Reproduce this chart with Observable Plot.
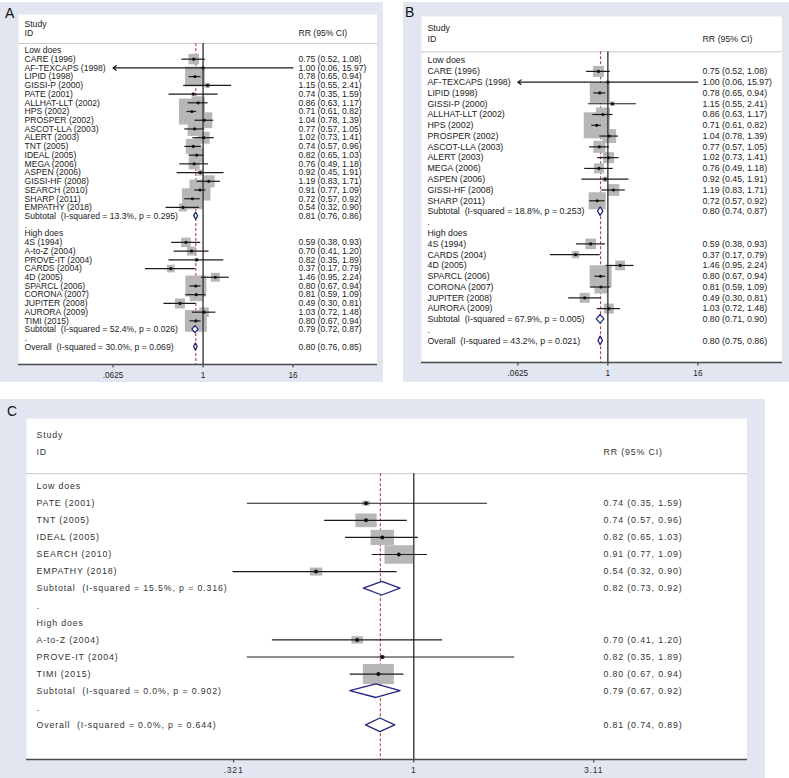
<!DOCTYPE html>
<html><head><meta charset="utf-8">
<script src="https://cdn.jsdelivr.net/npm/d3@7"></script>
<script src="https://cdn.jsdelivr.net/npm/@observablehq/plot@0.6"></script>
<style>
body{margin:0;background:#fff;}
#wrap{position:relative;width:789px;height:778px;overflow:hidden;font-family:"Liberation Sans",Arial,sans-serif;}
.bg{position:absolute;background:#e2e6f0;}
.lab{position:absolute;font-size:14px;line-height:1;color:#111;}
.plot{position:absolute;}
.plot svg{background:transparent !important;max-width:none !important;}
</style></head><body><div id="wrap"></div>
<script>
// ---------------- DATA ----------------
const groupNames = ["Low does", "High does"];

// Panel A
const aLowStudy = ["CARE (1996)","AF-TEXCAPS (1998)","LIPID (1998)","GISSI-P (2000)","PATE (2001)","ALLHAT-LLT (2002)","HPS (2002)","PROSPER (2002)","ASCOT-LLA (2003)","ALERT (2003)","TNT (2005)","IDEAL (2005)","MEGA (2006)","ASPEN (2006)","GISSI-HF (2008)","SEARCH (2010)","SHARP (2011)","EMPATHY (2018)"];
const aLowRR = [0.75,1.00,0.78,1.15,0.74,0.86,0.71,1.04,0.77,1.02,0.74,0.82,0.76,0.92,1.19,0.91,0.72,0.54];
const aLowLo = [0.52,0.06,0.65,0.55,0.35,0.63,0.61,0.78,0.57,0.73,0.57,0.65,0.49,0.45,0.83,0.77,0.57,0.32];
const aLowHi = [1.08,15.97,0.94,2.41,1.59,1.17,0.82,1.39,1.05,1.41,0.96,1.03,1.18,1.91,1.71,1.09,0.92,0.90];
const aLowWeight = [2.1,0.1,7.5,0.5,0.2,3.2,12.8,4.8,3.7,2.7,4.2,4.2,2.3,0.7,2.7,8.3,8.3,1.2];
const aLowSub = [0.81,0.76,0.86]; const aLowI2 = 13.3; const aLowP = 0.295;
const aHighStudy = ["4S (1994)","A-to-Z (2004)","PROVE-IT (2004)","CARDS (2004)","4D (2005)","SPARCL (2006)","CORONA (2007)","JUPITER (2008)","AURORA (2009)","TIMI (2015)"];
const aHighRR = [0.59,0.70,0.82,0.37,1.46,0.80,0.81,0.49,1.03,0.80];
const aHighLo = [0.38,0.41,0.35,0.17,0.95,0.67,0.59,0.30,0.72,0.67];
const aHighHi = [0.93,1.20,1.89,0.79,2.24,0.94,1.09,0.81,1.48,0.94];
const aHighWeight = [1.7,1.5,0.3,1.1,1.5,8.3,3.2,1.9,1.7,9.1];
const aHighSub = [0.79,0.72,0.87]; const aHighI2 = 52.4; const aHighP = 0.026;
const aOverall = [0.80,0.76,0.85]; const aOverI2 = 30.0; const aOverP = 0.069;

// Panel B
const bLowStudy = ["CARE (1996)","AF-TEXCAPS (1998)","LIPID (1998)","GISSI-P (2000)","ALLHAT-LLT (2002)","HPS (2002)","PROSPER (2002)","ASCOT-LLA (2003)","ALERT (2003)","MEGA (2006)","ASPEN (2006)","GISSI-HF (2008)","SHARP (2011)"];
const bLowRR = [0.75,1.00,0.78,1.15,0.86,0.71,1.04,0.77,1.02,0.76,0.92,1.19,0.72];
const bLowLo = [0.52,0.06,0.65,0.55,0.63,0.61,0.78,0.57,0.73,0.49,0.45,0.83,0.57];
const bLowHi = [1.08,15.97,0.94,2.41,1.17,0.82,1.39,1.05,1.41,1.18,1.91,1.71,0.92];
const bLowWeight = [3.4,0.2,11.3,0.6,5.5,19.1,5.5,4.1,3.4,2.8,0.7,3.9,8.2];
const bLowSub = [0.80,0.74,0.87]; const bLowI2 = 18.8; const bLowP = 0.253;
const bHighStudy = ["4S (1994)","CARDS (2004)","4D (2005)","SPARCL (2006)","CORONA (2007)","JUPITER (2008)","AURORA (2009)"];
const bHighRR = [0.59,0.37,1.46,0.80,0.81,0.49,1.03];
const bHighLo = [0.38,0.17,0.95,0.67,0.59,0.30,0.72];
const bHighHi = [0.93,0.79,2.24,0.94,1.09,0.81,1.48];
const bHighWeight = [3.2,1.5,2.7,13.7,4.8,2.8,2.8];
const bHighSub = [0.80,0.71,0.90]; const bHighI2 = 67.9; const bHighP = 0.005;
const bOverall = [0.80,0.75,0.86]; const bOverI2 = 43.2; const bOverP = 0.021;

// Panel C
const cLowStudy = ["PATE (2001)","TNT (2005)","IDEAL (2005)","SEARCH (2010)","EMPATHY (2018)"];
const cLowRR = [0.74,0.74,0.82,0.91,0.54];
const cLowLo = [0.35,0.57,0.65,0.77,0.32];
const cLowHi = [1.59,0.96,1.03,1.09,0.90];
const cLowWeight = [1.8,14.3,17.5,26.1,4.9];
const cLowSub = [0.82,0.73,0.92]; const cLowI2 = 15.5; const cLowP = 0.316;
const cHighStudy = ["A-to-Z (2004)","PROVE-IT (2004)","TIMI (2015)"];
const cHighRR = [0.70,0.82,0.80];
const cHighLo = [0.41,0.35,0.67];
const cHighHi = [1.20,1.89,0.94];
const cHighWeight = [4.2,0.8,30.5];
const cHighSub = [0.79,0.67,0.92]; const cHighI2 = 0.0; const cHighP = 0.902;
const cOverall = [0.81,0.74,0.89]; const cOverI2 = 0.0; const cOverP = 0.644;

const abTicks = [0.0625, 1, 16];
const abTickLabels = [".0625", "1", "16"];
const cTicks = [0.321, 1, 3.11];
const cTickLabels = [".321", "1", "3.11"];

// ---------------- BUILD ----------------
const fmt = (d) => `${d.rr.toFixed(2)} (${d.lo.toFixed(2)}, ${d.hi.toFixed(2)})`;
function makeRows(groups, overall) {
  const rows = []; let i = 0;
  for (const g of groups) {
    rows.push({row: i++, type: "head", label: g.name});
    g.study.forEach((s, k) => rows.push({row: i++, type: "study", label: s, rr: g.rr[k], lo: g.lo[k], hi: g.hi[k], w: g.w[k]}));
    rows.push({row: i++, type: "sum", label: `Subtotal  (I-squared = ${g.i2.toFixed(1)}%, p = ${g.p.toFixed(3)})`, rr: g.sub[0], lo: g.sub[1], hi: g.sub[2]});
    rows.push({row: i++, type: "dot", label: "."});
  }
  rows.push({row: i++, type: "sum", label: `Overall  (I-squared = ${overall.i2.toFixed(1)}%, p = ${overall.p.toFixed(3)})`, rr: overall.v[0], lo: overall.v[1], hi: overall.v[2]});
  return rows;
}

function forest(rows, cfg) {
  const last = rows.length - 1;
  const axisRow = last + 2;
  const sepRow = cfg.sepRow;
  const studies = rows.filter(d => d.type === "study");
  const sums = rows.filter(d => d.type === "sum");
  const overall = sums[sums.length - 1];
  const [cmin, cmax] = cfg.clip;
  const inside = studies.filter(d => d.lo >= cmin && d.hi <= cmax);
  const outside = studies.filter(d => d.lo < cmin);
  const diamonds = sums.flatMap(d => [
    {id: d.row, y: d.row - 0.4, x1: d.rr, x2: d.rr},
    {id: d.row, y: d.row, x1: d.lo, x2: d.hi},
    {id: d.row, y: d.row + 0.4, x1: d.rr, x2: d.rr}
  ]);
  const box = {draw(ctx, size) { const r = Math.sqrt(size / Math.PI); ctx.rect(-r * cfg.aspect, -r, 2 * r * cfg.aspect, 2 * r); }};
  const fs = cfg.fontSize;
  const txt = {fontSize: fs, fill: cfg.textColor};
  const tickData = cfg.ticks.map((t, i) => ({x: t, y: axisRow, label: cfg.tickLabels[i]}));
  const svg = Plot.plot({
    width: cfg.width, height: cfg.height,
    marginLeft: 0, marginRight: 0, marginTop: 0, marginBottom: cfg.marginBottom,
    style: {fontFamily: '"Liberation Sans", Arial, sans-serif', fontSize: cfg.tickFont + "px", color: cfg.textColor, background: "transparent"},
    x: {type: "log", domain: cfg.domain, axis: null},
    y: {type: "linear", domain: [cfg.top, axisRow], reverse: true, axis: null},
    r: {type: "sqrt", domain: [0, cfg.wMax], range: [0, cfg.rMax]},
    marks: [
      Plot.frame({fill: "white", stroke: "none"}),
      Plot.ruleY([sepRow], {stroke: "#c9c9c9", strokeWidth: 1}),
      Plot.ruleX([{x: overall.rr, y1: sepRow, y2: axisRow}], {x: "x", y1: "y1", y2: "y2", stroke: "#b8403c", strokeWidth: 1.1, strokeDasharray: "3,2"}),
      Plot.dot(studies, {x: "rr", y: "row", r: "w", symbol: box, fill: "#b7b7b7", stroke: "none"}),
      Plot.ruleX([{x: 1, y1: sepRow, y2: axisRow}], {x: "x", y1: "y1", y2: "y2", stroke: "#3a3a3a", strokeWidth: 1.4}),
      Plot.ruleY(inside, {y: "row", x1: "lo", x2: "hi", stroke: "#1c1c1c", strokeWidth: cfg.ciWidth}),
      Plot.arrow(outside, {x1: "hi", x2: d => Math.max(d.lo, cmin), y1: "row", y2: "row", bend: 0, headLength: 5, headAngle: 70, stroke: "#1c1c1c", strokeWidth: cfg.ciWidth}),
      Plot.dot(studies, {x: "rr", y: "row", r: cfg.dotR, fill: "#111", stroke: "none"}),
      Plot.areaX(diamonds, {x1: "x1", x2: "x2", y: "y", z: "id", fill: "white", stroke: "#24247e", strokeWidth: 1.3}),
      Plot.ruleY([axisRow], {stroke: "#4a4a4a", strokeWidth: 1.3}),
      Plot.ruleX(tickData, {x: "x", y1: "y", y2: "y", insetTop: 0, insetBottom: -3.5, stroke: "#4a4a4a", strokeWidth: 1.2}),
      Plot.text(tickData, {x: "x", y: "y", text: "label", dy: cfg.tickDy, fontSize: cfg.tickFont, fill: cfg.textColor}),
      Plot.text(rows, {y: "row", text: "label", frameAnchor: "left", textAnchor: "start", dx: cfg.leftPad, ...txt}),
      Plot.text([{y: -3, t: "Study"}, {y: -2, t: "ID"}], {y: "y", text: "t", frameAnchor: "left", textAnchor: "start", dx: cfg.leftPad, ...txt}),
      Plot.text([{y: -2, t: "RR (95% CI)"}], {y: "y", text: "t", frameAnchor: "right", textAnchor: "start", dx: -cfg.rightPad, ...txt}),
      Plot.text(rows.filter(d => d.rr != null), {y: "row", text: fmt, frameAnchor: "right", textAnchor: "start", dx: -cfg.rightPad, ...txt})
    ]
  });
  svg.style.letterSpacing = cfg.letterSpacing + "px";
  return svg;
}

const wrap = document.getElementById("wrap");
function addDiv(cls, css, text) {
  const d = document.createElement("div"); d.className = cls; Object.assign(d.style, css);
  if (text) d.textContent = text; wrap.appendChild(d); return d;
}

// backgrounds and panel letters
addDiv("bg", {left: "0px", top: "2px", width: "383px", height: "380px"});
addDiv("bg", {left: "403px", top: "2px", width: "386px", height: "380px"});
addDiv("bg", {left: "0px", top: "399px", width: "765px", height: "379px"});
addDiv("lab", {left: "5px", top: "6px"}, "A");
addDiv("lab", {left: "405px", top: "5px"}, "B");
addDiv("lab", {left: "7px", top: "404px"}, "C");

const rowsA = makeRows([
  {name: groupNames[0], study: aLowStudy, rr: aLowRR, lo: aLowLo, hi: aLowHi, w: aLowWeight, sub: aLowSub, i2: aLowI2, p: aLowP},
  {name: groupNames[1], study: aHighStudy, rr: aHighRR, lo: aHighLo, hi: aHighHi, w: aHighWeight, sub: aHighSub, i2: aHighI2, p: aHighP}
], {v: aOverall, i2: aOverI2, p: aOverP});
const rowsB = makeRows([
  {name: groupNames[0], study: bLowStudy, rr: bLowRR, lo: bLowLo, hi: bLowHi, w: bLowWeight, sub: bLowSub, i2: bLowI2, p: bLowP},
  {name: groupNames[1], study: bHighStudy, rr: bHighRR, lo: bHighLo, hi: bHighHi, w: bHighWeight, sub: bHighSub, i2: bHighI2, p: bHighP}
], {v: bOverall, i2: bOverI2, p: bOverP});
const rowsC = makeRows([
  {name: groupNames[0], study: cLowStudy, rr: cLowRR, lo: cLowLo, hi: cLowHi, w: cLowWeight, sub: cLowSub, i2: cLowI2, p: cLowP},
  {name: groupNames[1], study: cHighStudy, rr: cHighRR, lo: cHighLo, hi: cHighHi, w: cHighWeight, sub: cHighSub, i2: cHighI2, p: cHighP}
], {v: cOverall, i2: cOverI2, p: cOverP});

const pA = addDiv("plot", {left: "18px", top: "14px", width: "359px"});
pA.appendChild(forest(rowsA, {width: 359, height: 370, marginBottom: 20, top: -4.12, sepRow: -0.8,
  domain: [Math.pow(2, -8.2), Math.pow(2, 7.75)], ticks: abTicks, tickLabels: abTickLabels, clip: [abTicks[0], abTicks[2]],
  aspect: 1, wMax: 12.8, rMax: 13, dotR: 1.6, ciWidth: 1.2, fontSize: 8.6, tickFont: 8.2, tickDy: 11, letterSpacing: 0,
  leftPad: 6, rightPad: 79, textColor: "#222"}));

const pB = addDiv("plot", {left: "421px", top: "16px", width: "361px"});
pB.appendChild(forest(rowsB, {width: 361, height: 366, marginBottom: 20, top: -4.09, sepRow: -0.82,
  domain: [Math.pow(2, -8.28), Math.pow(2, 7.76)], ticks: abTicks, tickLabels: abTickLabels, clip: [abTicks[0], abTicks[2]],
  aspect: 1, wMax: 19.1, rMax: 13, dotR: 1.6, ciWidth: 1.2, fontSize: 8.8, tickFont: 8.2, tickDy: 11, letterSpacing: 0,
  leftPad: 6, rightPad: 80, textColor: "#222"}));

const pC = addDiv("plot", {left: "26px", top: "418px", width: "721px"});
pC.appendChild(forest(rowsC, {width: 721, height: 360, marginBottom: 19, top: -3.96, sepRow: -0.73,
  domain: [0.087, 8.2], ticks: cTicks, tickLabels: cTickLabels, clip: [0.087, 8.2],
  aspect: 1.55, wMax: 30.5, rMax: 10, dotR: 2, ciWidth: 1.2, fontSize: 8.8, tickFont: 8.6, tickDy: 10.5, letterSpacing: 0.85,
  leftPad: 10, rightPad: 144, textColor: "#333"}));
</script>
</body></html>
